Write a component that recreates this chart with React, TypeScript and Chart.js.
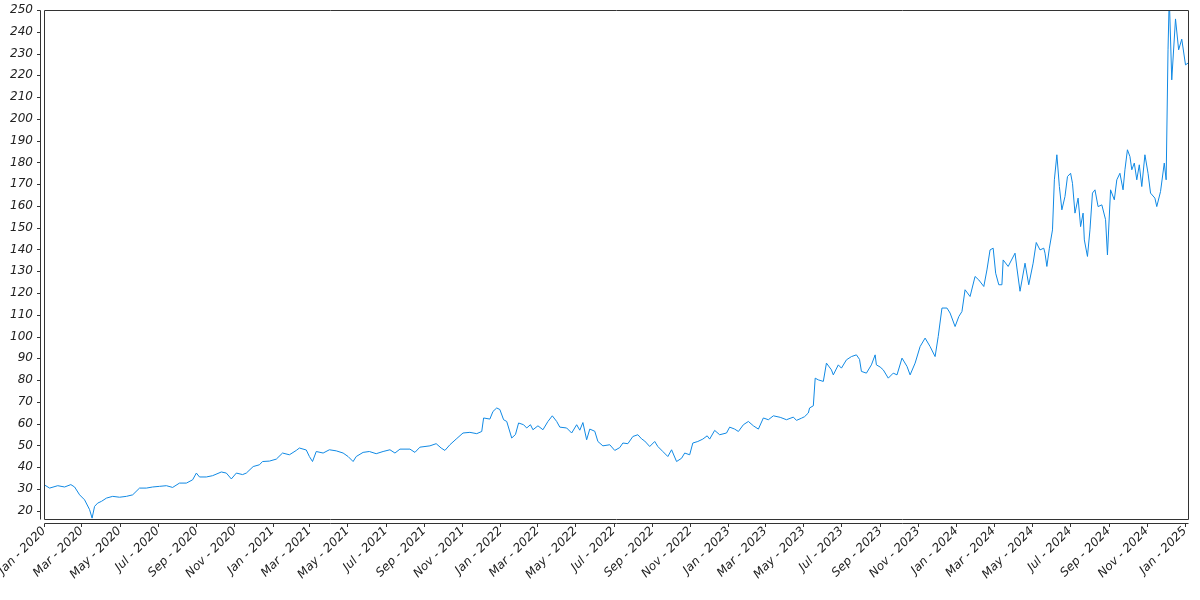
import React, { useEffect, useRef } from "react";
import { Chart, registerables } from "chart.js";

Chart.register(...registerables);

// ---- Data ----
const dates: string[] = [
  "2020-01-02","2020-01-10","2020-01-23","2020-02-03","2020-02-13","2020-02-19","2020-02-27","2020-03-06","2020-03-14","2020-03-18",
  "2020-03-22","2020-03-27","2020-04-02","2020-04-10","2020-04-20","2020-05-01","2020-05-12","2020-05-22","2020-06-02","2020-06-13",
  "2020-06-23","2020-07-04","2020-07-15","2020-07-25","2020-08-05","2020-08-16","2020-08-26","2020-09-01","2020-09-06","2020-09-17",
  "2020-09-27","2020-10-11","2020-10-19","2020-10-27","2020-11-04","2020-11-14","2020-11-20","2020-12-01","2020-12-11","2020-12-16",
  "2020-12-27",
  "2021-01-07","2021-01-17","2021-01-28","2021-02-08","2021-02-13","2021-02-24","2021-03-01","2021-03-06","2021-03-12","2021-03-23",
  "2021-04-02","2021-04-13","2021-04-24","2021-05-02","2021-05-10","2021-05-15","2021-05-26","2021-06-05","2021-06-16","2021-06-27",
  "2021-07-08","2021-07-16","2021-07-24","2021-08-09","2021-08-17","2021-08-25","2021-09-10","2021-09-20","2021-09-28","2021-10-04",
  "2021-10-12","2021-10-22","2021-11-02","2021-11-13","2021-11-24","2021-12-02","2021-12-05","2021-12-15","2021-12-20","2021-12-26",
  "2021-12-31",
  "2022-01-06","2022-01-11","2022-01-19","2022-01-25","2022-01-30","2022-02-07","2022-02-12","2022-02-18","2022-02-22","2022-03-02",
  "2022-03-10","2022-03-18","2022-03-25","2022-04-01","2022-04-06","2022-04-17","2022-04-25","2022-05-03","2022-05-08","2022-05-13",
  "2022-05-19","2022-05-24","2022-06-01","2022-06-06","2022-06-14","2022-06-25","2022-07-03","2022-07-11","2022-07-16","2022-07-24",
  "2022-08-01","2022-08-09","2022-08-15","2022-08-20","2022-08-28","2022-09-05","2022-09-10","2022-09-18","2022-09-26","2022-10-02",
  "2022-10-10","2022-10-18","2022-10-23","2022-10-31","2022-11-05","2022-11-13","2022-11-21","2022-11-28","2022-12-02","2022-12-10",
  "2022-12-18","2022-12-29",
  "2023-01-03","2023-01-11","2023-01-17","2023-01-25","2023-02-02","2023-02-10","2023-02-18","2023-02-26","2023-03-06","2023-03-14",
  "2023-03-25","2023-04-04","2023-04-15","2023-04-20","2023-04-28","2023-05-03","2023-05-09","2023-05-11","2023-05-17","2023-05-20",
  "2023-05-25","2023-06-02","2023-06-07","2023-06-15","2023-06-18","2023-06-26","2023-07-01","2023-07-09","2023-07-17","2023-07-25",
  "2023-07-30","2023-08-02","2023-08-10","2023-08-18","2023-08-24","2023-08-26","2023-09-01","2023-09-06","2023-09-14","2023-09-22",
  "2023-09-28","2023-10-06","2023-10-14","2023-10-19","2023-10-27","2023-11-04","2023-11-12","2023-11-20","2023-11-28","2023-12-03",
  "2023-12-09","2023-12-17","2023-12-22","2023-12-30",
  "2024-01-05","2024-01-10","2024-01-15","2024-01-23","2024-01-31","2024-02-06","2024-02-14","2024-02-19","2024-02-24","2024-02-29",
  "2024-03-04","2024-03-09","2024-03-14","2024-03-16","2024-03-24","2024-04-04","2024-04-07","2024-04-12","2024-04-20","2024-04-26",
  "2024-05-03","2024-05-08","2024-05-14","2024-05-20","2024-05-22","2024-05-25","2024-05-29","2024-06-03","2024-06-06","2024-06-10",
  "2024-06-14","2024-06-18","2024-06-23","2024-06-27","2024-07-02","2024-07-05","2024-07-09","2024-07-14","2024-07-18","2024-07-22",
  "2024-07-24","2024-07-29","2024-08-02","2024-08-06","2024-08-10","2024-08-15","2024-08-21","2024-08-27","2024-08-30","2024-09-04",
  "2024-09-10","2024-09-14","2024-09-19","2024-09-24","2024-09-27","2024-10-01","2024-10-05","2024-10-08","2024-10-12","2024-10-16",
  "2024-10-20","2024-10-24","2024-10-29","2024-11-03","2024-11-07","2024-11-14","2024-11-17","2024-11-23","2024-11-29","2024-12-02",
  "2024-12-05","2024-12-07","2024-12-11","2024-12-17","2024-12-22","2024-12-27",
  "2025-01-02","2025-01-06",
];

const values: number[] = [
  31.8,30.4,31.5,30.9,32.0,30.9,27.3,25.0,20.5,16.6,
  22.0,23.5,24.3,25.8,26.6,26.2,26.6,27.3,30.4,30.4,
  30.9,31.2,31.5,30.7,32.7,32.7,34.2,37.3,35.5,35.5,
  36.1,37.8,37.3,34.6,37.3,36.6,37.3,40.3,41.1,42.6,
  42.8,
  43.7,46.5,45.7,47.7,48.8,47.9,44.9,42.6,47.2,46.5,
  48.0,47.5,46.5,44.9,42.6,44.9,46.8,47.2,46.2,47.2,
  48.0,46.5,48.3,48.3,46.8,49.2,49.8,50.8,48.8,47.7,
  50.3,52.9,55.7,56.0,55.4,56.4,62.6,62.1,65.6,67.2,
  66.5,
  61.8,61.0,53.4,55.0,60.3,59.5,58.0,59.5,57.2,59.0,
  57.2,61.0,63.6,61.0,58.4,58.0,55.7,59.5,57.0,60.5,
  52.6,57.5,56.5,51.8,49.8,50.3,47.7,49.0,51.1,50.8,
  54.1,54.9,53.0,52.0,49.5,51.8,49.5,47.2,44.9,48.0,
  42.6,44.1,46.5,45.7,51.1,51.8,52.9,54.4,52.9,56.9,
  54.9,55.7,
  58.4,57.5,56.4,59.5,61.0,59.0,57.5,62.6,61.8,63.6,
  62.9,61.8,63.0,61.5,62.5,63.2,64.9,67.2,68.2,80.9,
  80.1,79.4,87.8,84.7,82.4,87.0,85.5,89.3,90.8,91.6,
  89.5,84.0,83.2,87.0,91.6,87.0,86.0,84.7,80.9,83.2,
  82.4,90.1,86.3,82.4,87.8,95.4,99.3,95.4,90.8,100.0,
  113.1,113.1,110.8,104.6,
  109.2,111.5,121.5,118.4,127.6,126.0,123.0,130.6,139.8,140.6,
  129.1,123.8,123.8,135.2,132.2,138.3,131.5,120.8,133.7,123.8,
  133.7,143.2,139.8,140.6,138.3,132.2,140.6,149.0,172.0,183.5,
  168.9,158.2,164.3,173.5,175.0,170.4,156.7,163.6,150.5,156.7,
  144.4,136.8,149.0,165.9,167.4,159.7,160.5,153.7,137.5,167.4,
  162.8,172.0,175.0,167.4,176.6,185.8,182.7,176.6,179.7,172.0,
  178.9,168.9,183.5,175.0,165.9,163.6,159.7,166.6,179.7,172.0,
  231.7,256.0,217.9,245.9,231.7,236.6,
  224.8,225.6,
];

const xTickDates: string[] = [
  "2020-01-01","2020-03-01","2020-05-01","2020-07-01","2020-09-01","2020-11-01",
  "2021-01-01","2021-03-01","2021-05-01","2021-07-01","2021-09-01","2021-11-01",
  "2022-01-01","2022-03-01","2022-05-01","2022-07-01","2022-09-01","2022-11-01",
  "2023-01-01","2023-03-01","2023-05-01","2023-07-01","2023-09-01","2023-11-01",
  "2024-01-01","2024-03-01","2024-05-01","2024-07-01","2024-09-01","2024-11-01",
  "2025-01-01",
];
const xTickLabels: string[] = [
  "Jan - 2020","Mar - 2020","May - 2020","Jul - 2020","Sep - 2020","Nov - 2020",
  "Jan - 2021","Mar - 2021","May - 2021","Jul - 2021","Sep - 2021","Nov - 2021",
  "Jan - 2022","Mar - 2022","May - 2022","Jul - 2022","Sep - 2022","Nov - 2022",
  "Jan - 2023","Mar - 2023","May - 2023","Jul - 2023","Sep - 2023","Nov - 2023",
  "Jan - 2024","Mar - 2024","May - 2024","Jul - 2024","Sep - 2024","Nov - 2024",
  "Jan - 2025",
];

const yTickValues: number[] = [
  20, 30, 40, 50, 60, 70, 80, 90, 100, 110, 120, 130, 140, 150, 160, 170, 180, 190, 200, 210, 220, 230, 240, 250,
];

const xStart = "2020-01-01";
const xEnd = "2025-01-06";
const yMin = 16.2;
const yMax = 250;

const DAY_MS = 86400000;
const ORIGIN = Date.UTC(2020, 0, 1);
const toDay = (s: string): number => {
  const [y, m, d] = s.split("-").map(Number);
  return (Date.UTC(y, m - 1, d) - ORIGIN) / DAY_MS;
};

const AXIS_COLOR = "#333333";
const TEXT_COLOR = "#222222";
const LINE_COLOR = "#1089e4";
const tickFont = { family: "'DejaVu Sans', sans-serif", size: 12, style: "italic" as const };

// Frame around the plot plus axis lines offset outward, with tick marks taken from the scales.
const offsetAxesPlugin = {
  id: "offsetAxes",
  afterDraw(chart: any) {
    const { ctx, chartArea: a } = chart;
    const xs = chart.scales.x;
    const ys = chart.scales.y;
    const L = Math.round(a.left) + 0.5;
    const R = Math.round(a.right) + 0.5;
    const T = Math.round(a.top) + 0.5;
    const B = Math.round(a.bottom) + 0.5;
    const ax = L - 4;
    const ay = B + 4;
    ctx.save();
    ctx.strokeStyle = AXIS_COLOR;
    ctx.lineWidth = 1;
    ctx.beginPath();
    ctx.rect(L, T, R - L, B - T);
    ctx.moveTo(ax, T);
    ctx.lineTo(ax, B);
    ctx.moveTo(L, ay);
    ctx.lineTo(R, ay);
    ys.ticks.forEach((t: any) => {
      const p = Math.round(ys.getPixelForValue(t.value)) + 0.5;
      ctx.moveTo(ax - 3.5, p);
      ctx.lineTo(ax, p);
    });
    xs.ticks.forEach((t: any) => {
      const p = Math.round(xs.getPixelForValue(t.value)) + 0.5;
      ctx.moveTo(p, ay);
      ctx.lineTo(p, ay + 3.5);
    });
    ctx.stroke();
    ctx.restore();
  },
};

export default function App() {
  const canvasRef = useRef<HTMLCanvasElement | null>(null);

  useEffect(() => {
    document.body.style.margin = "0";
    const canvas = canvasRef.current;
    if (!canvas) return;
    const points = dates.map((d, i) => ({ x: toDay(d), y: values[i] }));
    const tickDays = xTickDates.map(toDay);

    const chart = new Chart(canvas, {
      type: "line",
      data: {
        datasets: [
          {
            data: points,
            borderColor: LINE_COLOR,
            borderWidth: 1,
            pointRadius: 0,
            tension: 0,
            fill: false,
          },
        ],
      },
      options: {
        animation: false,
        responsive: false,
        maintainAspectRatio: false,
        layout: { padding: { top: 10, right: 12, left: 0, bottom: 0 } },
        plugins: { legend: { display: false }, tooltip: { enabled: false } },
        scales: {
          x: {
            type: "linear",
            min: toDay(xStart),
            max: toDay(xEnd),
            grid: { display: false, drawTicks: false },
            border: { display: false },
            afterBuildTicks: (s: any) => {
              s.ticks = tickDays.map((v) => ({ value: v }));
            },
            afterFit: (s: any) => {
              s.height = 81;
              s.paddingLeft = 0;
              s.paddingRight = 0;
            },
            ticks: {
              autoSkip: false,
              minRotation: 45,
              maxRotation: 45,
              padding: 5,
              color: TEXT_COLOR,
              font: tickFont,
              callback: (v: any) => {
                const i = tickDays.indexOf(Number(v));
                return i >= 0 ? xTickLabels[i] : "";
              },
            },
          },
          y: {
            type: "linear",
            min: yMin,
            max: yMax,
            bounds: "data",
            grid: { display: false, drawTicks: false },
            border: { display: false },
            afterBuildTicks: (s: any) => {
              s.ticks = yTickValues.map((v) => ({ value: v }));
            },
            afterFit: (s: any) => {
              s.width = 44;
              s.paddingTop = 0;
              s.paddingBottom = 0;
            },
            ticks: {
              autoSkip: false,
              padding: 11,
              color: TEXT_COLOR,
              font: tickFont,
              callback: (v: any) => String(v),
            },
          },
        },
      } as any,
      plugins: [offsetAxesPlugin],
    });
    return () => chart.destroy();
  }, []);

  return (
    <div style={{ position: "fixed", left: 0, top: 0, width: 1200, height: 600, background: "#fff" }}>
      <canvas ref={canvasRef} width={1200} height={600} style={{ display: "block" }} />
    </div>
  );
}
